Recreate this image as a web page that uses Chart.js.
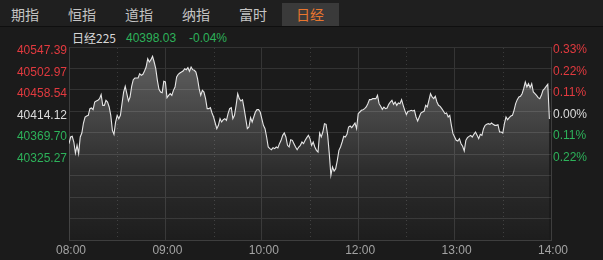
<!DOCTYPE html>
<html>
<head>
<meta charset="utf-8">
<script src="https://cdn.jsdelivr.net/npm/chart.js@4.4.1/dist/chart.umd.min.js"></script>
<style>
  html,body{margin:0;padding:0;}
  body{width:603px;height:260px;overflow:hidden;position:relative;background:#1b1b1b;
       font-family:"Liberation Sans","Noto Sans CJK SC",sans-serif;}
  #tabs{position:absolute;left:0;top:0;width:603px;height:26px;background:#1f1f1f;border-bottom:1px solid #0f0f0f;}
  .tab{position:absolute;top:3px;width:57px;height:23px;line-height:23px;text-align:center;
       font-family:"Noto Sans CJK SC",sans-serif;font-size:14px;color:#c4c4c4;}
  .tab.on{background:#3a3a3a;color:#e8762e;}
  #title{position:absolute;top:30px;height:16px;line-height:16px;font-size:12px;white-space:nowrap;}
  #title span{position:absolute;top:0;}
  canvas{position:absolute;left:0;top:0;}
</style>
</head>
<body>
<div id="tabs"></div>
<div id="title"></div>
<canvas id="c" width="603" height="260"></canvas>
<script>
// ---- data ----
const tabNames = ['期指', '恒指', '道指', '纳指', '富时', '日经'];
const activeTab = '日经';
const indexName = '日经225';
const lastPrice = '40398.03';
const changePct = '-0.04%';
const prevClose = 40414.12;
const xTickLabels = ['08:00', '09:00', '10:00', '12:00', '13:00', '14:00'];
const priceTicks = [40547.39, 40502.97, 40458.54, 40414.12, 40369.70, 40325.27];
const pctLabels = ['0.33%', '0.22%', '0.11%', '0.00%', '0.11%', '0.22%'];
// one value per trading minute from 08:00
const prices = [
40347.14,40360.95,40362.33,40350.59,40327.80,40343.68,40326.42,40360.95,40369.23,40389.95,
40402.38,40404.45,40405.83,40419.64,40421.02,40417.57,40433.45,40435.52,40436.91,40440.36,
40448.64,40426.55,40426.55,40436.91,40433.45,40423.09,40405.83,40374.76,40366.47,40392.02,
40405.83,40398.93,40405.83,40430.00,40454.17,40465.91,40450.72,40435.52,40443.81,40465.91,
40479.72,40483.17,40483.17,40483.17,40492.15,40488.69,40490.77,40497.67,40505.96,40523.22,
40516.32,40521.15,40528.06,40516.32,40502.51,40478.34,40459.69,40454.17,40452.79,40476.27,
40474.88,40442.43,40447.26,40450.72,40447.26,40457.62,40464.53,40485.24,40490.77,40493.53,
40495.60,40497.67,40502.51,40500.43,40504.58,40496.98,40505.96,40500.43,40499.05,40495.60,
40481.79,40461.07,40447.26,40457.62,40454.17,40440.36,40419.64,40419.64,40421.71,40410.67,
40402.38,40389.95,40378.21,40385.12,40398.93,40392.02,40396.85,40398.93,40395.47,40409.28,
40419.64,40421.71,40398.93,40405.83,40426.55,40450.72,40440.36,40435.52,40438.29,40419.64,
40398.93,40378.21,40381.66,40401.00,40392.02,40402.38,40412.74,40417.57,40417.57,40412.74,
40398.93,40385.12,40378.21,40360.95,40340.23,40336.78,40334.71,40338.85,40336.78,40340.23,
40338.16,40347.14,40354.04,40364.40,40369.23,40360.95,40343.68,40340.23,40355.42,40354.04,
40347.14,40340.23,40334.71,40340.23,40343.68,40350.59,40347.14,40354.04,40359.57,40364.40,
40357.49,40343.68,40350.59,40340.23,40333.33,40329.87,40369.23,40360.95,40371.30,40388.57,
40387.19,40364.40,40326.42,40281.54,40298.80,40290.51,40295.35,40312.61,40333.33,40340.23,
40350.59,40362.33,40360.95,40366.47,40381.66,40383.73,40380.28,40385.12,40389.95,40378.21,
40409.28,40412.74,40416.19,40417.57,40419.64,40423.09,40430.00,40438.29,40438.29,40440.36,
40440.36,40440.36,40447.26,40430.00,40424.48,40418.26,40423.09,40419.64,40421.02,40428.62,
40433.45,40436.91,40428.62,40433.45,40426.55,40431.38,40430.00,40438.29,40426.55,40416.19,
40407.21,40414.12,40414.81,40416.19,40414.81,40416.19,40402.38,40394.09,40402.38,40410.67,
40412.74,40414.12,40426.55,40423.09,40436.91,40450.72,40443.81,40440.36,40445.19,40433.45,
40426.55,40424.48,40419.64,40414.81,40409.28,40410.67,40402.38,40405.83,40385.12,40367.85,
40360.95,40354.04,40352.66,40357.49,40347.14,40341.61,40331.94,40354.04,40359.57,40362.33,
40364.40,40360.95,40366.47,40371.30,40364.40,40357.49,40366.47,40364.40,40378.21,40385.12,
40387.19,40388.57,40387.19,40389.95,40387.19,40385.12,40385.12,40386.50,40371.30,40371.30,
40369.23,40388.57,40402.38,40396.85,40401.00,40404.45,40405.83,40416.19,40430.00,40438.29,
40443.81,40445.19,40450.72,40461.07,40474.88,40464.53,40471.43,40463.15,40471.43,40454.17,
40450.72,40447.26,40442.43,40440.36,40447.26,40457.62,40461.07,40465.91,40470.05,40398.03
];

// ---- header (text) ----
const tabsEl = document.getElementById('tabs');
tabNames.forEach((n, i) => {
  const d = document.createElement('div');
  d.className = 'tab' + (n === activeTab ? ' on' : '');
  d.style.left = (57 * i - 3.5) + 'px';
  d.textContent = n;
  tabsEl.appendChild(d);
});
const RED = '#e23a3f', GREEN = '#2db25a', WHITE = '#dcdcdc';
const lastNum = parseFloat(lastPrice);
const chgColor = lastNum >= prevClose ? RED : GREEN;
const titleEl = document.getElementById('title');
[[indexName, 72, '#d8d8d8'], [lastPrice, 126, chgColor], [changePct, 189, chgColor]].forEach(([t, l, c]) => {
  const s = document.createElement('span');
  s.textContent = t; s.style.left = l + 'px'; s.style.color = c;
  if (t === indexName) s.style.fontFamily = '"Noto Sans CJK SC","Liberation Sans",sans-serif';
  titleEl.appendChild(s);
});

// ---- scale geometry from tick values ----
const yStep = (priceTicks[0] - priceTicks[priceTicks.length - 1]) / (priceTicks.length - 1);
const gridRows = 9;
const yMax = priceTicks[0];
const yMin = yMax - gridRows * yStep;
const totalMinutes = (xTickLabels.length - 1) * 60;

function buildYTicks(scale) {
  const t = [];
  for (let i = gridRows; i >= 0; i--) t.push({ value: yMax - i * yStep });
  scale.ticks = t;
}
function rowOf(v) { return Math.round((yMax - v) / yStep); }
function rowColor(r) { return r < 3 ? RED : (r === 3 ? WHITE : GREEN); }

const FONT = { family: '"Liberation Sans", Arial, sans-serif', size: 12 };

const halfHourLines = {
  id: 'halfHourLines',
  beforeDatasetsDraw(chart) {
    const { ctx, chartArea: a, scales: { x } } = chart;
    ctx.save();
    ctx.strokeStyle = '#3c3c3c';
    ctx.lineWidth = 1;
    ctx.setLineDash([1, 3]);
    for (let m = 30; m < totalMinutes; m += 60) {
      const px = Math.round(x.getPixelForValue(m)) + 0.5;
      ctx.beginPath(); ctx.moveTo(px, a.top + 1); ctx.lineTo(px, a.bottom); ctx.stroke();
    }
    ctx.restore();
  }
};

new Chart(document.getElementById('c'), {
  type: 'line',
  data: {
    datasets: [{
      data: prices.map((p, i) => ({ x: i, y: p })),
      borderColor: '#e6e6e6',
      borderWidth: 1.1,
      pointRadius: 0,
      tension: 0,
      fill: 'start',
      backgroundColor: (c) => {
        const a = c.chart.chartArea;
        if (!a) return 'rgba(255,255,255,0.15)';
        const g = c.chart.ctx.createLinearGradient(0, a.top, 0, a.bottom);
        g.addColorStop(0, 'rgba(255,255,255,0.32)');
        g.addColorStop(0.65, 'rgba(255,255,255,0.08)');
        g.addColorStop(1, 'rgba(255,255,255,0.01)');
        return g;
      }
    }]
  },
  options: {
    responsive: false,
    animation: false,
    devicePixelRatio: 1,
    layout: { padding: { top: 47, left: 0, right: 0, bottom: 0 } },
    plugins: { legend: { display: false }, tooltip: { enabled: false } },
    scales: {
      x: {
        type: 'linear', min: 0, max: totalMinutes,
        afterBuildTicks: (s) => { s.ticks = xTickLabels.map((_, i) => ({ value: i * 60 })); },
        afterFit: (s) => { s.height = 20; },
        ticks: {
          callback: (v) => xTickLabels[Math.round(v / 60)],
          color: '#a3a3a3', font: FONT, padding: 3, maxRotation: 0, autoSkip: false, labelOffset: 2
        },
        grid: { color: '#353535', drawTicks: false },
        border: { color: '#3e3e3e' }
      },
      y: {
        position: 'left', min: yMin, max: yMax,
        afterBuildTicks: buildYTicks,
        afterFit: (s) => { s.width = 69; },
        ticks: {
          callback: (v) => { const r = rowOf(v); return r < priceTicks.length ? priceTicks[r].toFixed(2) : ''; },
          color: (c) => rowColor(rowOf(c.tick.value)),
          font: FONT, padding: 2, labelOffset: 4, autoSkip: false
        },
        grid: { color: '#333333', drawTicks: false },
        border: { color: '#3e3e3e' }
      },
      y2: {
        position: 'right', min: yMin, max: yMax,
        afterBuildTicks: buildYTicks,
        afterFit: (s) => { s.width = 52; },
        ticks: {
          callback: (v) => { const r = rowOf(v); return r < pctLabels.length ? pctLabels[r] : ''; },
          color: (c) => rowColor(rowOf(c.tick.value)),
          font: FONT, padding: 2, labelOffset: 3, autoSkip: false
        },
        grid: { drawOnChartArea: false, drawTicks: false },
        border: { color: '#3e3e3e' }
      }
    }
  },
  plugins: [halfHourLines]
});
</script>
</body>
</html>
